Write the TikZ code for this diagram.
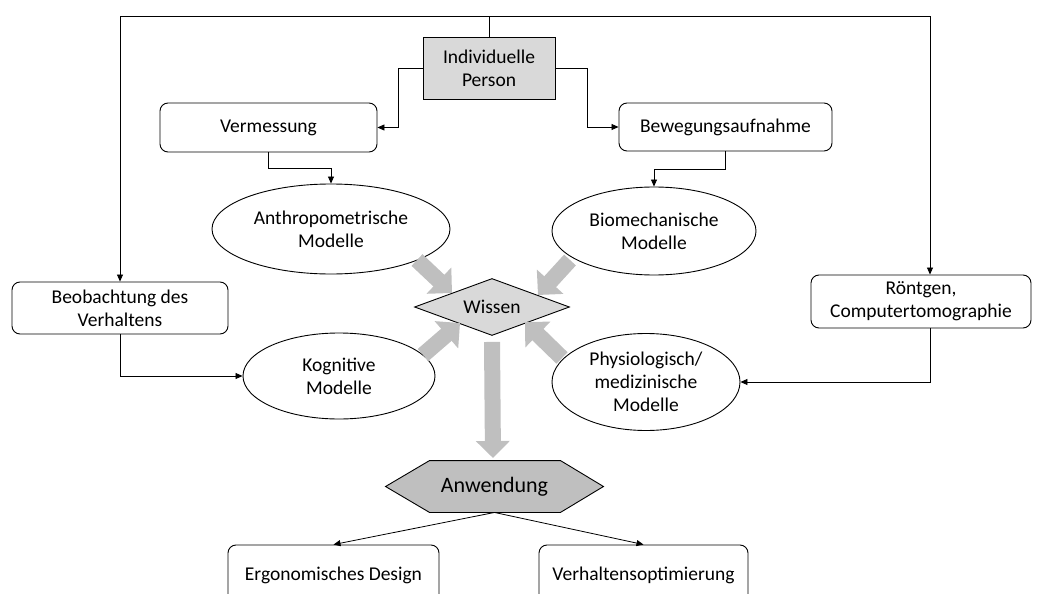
\documentclass[tikz,border=0pt]{standalone}
\usepackage{fontspec}
\setmainfont{Carlito}
\usetikzlibrary{arrows.meta,shapes.geometric,backgrounds}
\definecolor{lgray}{HTML}{D9D9D9}
\definecolor{mgray}{HTML}{BFBFBF}
\tikzset{
  base/.style={draw=black, line width=0.9pt, inner sep=0pt, align=center, font=\fontsize{19.5}{23}\selectfont},
  rbox/.style={base, rectangle, rounded corners=8pt},
  pbox/.style={base, rectangle, fill=lgray},
  ell/.style={base, ellipse},
  conn/.style={line width=0.8pt, -{Triangle[length=7pt,width=6pt]}},
  plain/.style={line width=0.8pt},
  bigarr/.style={draw=mgray, line width=16pt, -{Triangle[length=18pt,width=35pt]}},
}
\begin{document}
\begin{tikzpicture}[x=1pt,y=-1pt]
\clip (0,0) rectangle (1037,594);

% nodes
\node[pbox, minimum width=132, minimum height=62] (person) at (489,68) {Individuelle\\Person};
\node[rbox, minimum width=217, minimum height=49] (verm) at (268.5,127.5) {Vermessung};
\node[rbox, minimum width=213, minimum height=48] (beweg) at (725.5,127) {Bewegungsaufnahme};
\node[ell, minimum width=238, minimum height=90] (anthro) at (331,229) {Anthropometrische\\Modelle};
\node[ell, minimum width=204, minimum height=88] (bio) at (654,231) {Biomechanische\\Modelle};
\node[base, diamond, shape aspect=2.72, fill=lgray, minimum width=155, minimum height=57] (wissen) at (492,307) {Wissen};
\node[rbox, minimum width=216, minimum height=52] (beob) at (120,308) {Beobachtung des\\Verhaltens};
\node[rbox, minimum width=220, minimum height=53] (roent) at (921,301.5) {Röntgen,\\Computertomographie};
\node[ell, minimum width=192, minimum height=86] (kogn) at (339,376) {Kognitive\\Modelle};
\node[ell, minimum width=188, minimum height=97] (phys) at (646,382) {Physiologisch/\\medizinische\\Modelle};
\node[base, draw=none, minimum width=217, minimum height=51, font=\fontsize{22}{26}\selectfont] (anw) at (494.5,486.5) {Anwendung};
\begin{scope}[on background layer]
\draw[line width=0.9pt, fill=mgray] (anw.west) -- ([xshift=44pt]anw.north west) -- ([xshift=-43pt]anw.north east) -- (anw.east) -- ([xshift=-43pt]anw.south east) -- ([xshift=44pt]anw.south west) -- cycle;
\end{scope}
\node[rbox, minimum width=211, minimum height=60] (ergo) at (333.5,575) {Ergonomisches Design};
\node[rbox, minimum width=209, minimum height=60] (verh) at (643.5,575) {Verhaltensoptimierung};

% top distribution line
\coordinate (top) at (489,16);
\coordinate (rx) at (930,0);
\draw[plain] (person.north) -- (top);
\draw[conn] (top) -| (beob.north);
\draw[conn] (top) -| (rx |- roent.north);

% person to measurement boxes
\draw[conn] (person.west) -- ++(-24,0) |- (verm.east);
\draw[conn] (person.east) -- ++(32,0) |- (beweg.west);

% boxes to models
\draw[conn] (verm.south) -- ++(0,16) -| (anthro.north);
\draw[conn] (beweg.south) -- ++(0,18) -| (bio.north);
\draw[conn] (beob.south) |- (kogn.west);
\draw[conn] (rx |- roent.south) |- (phys.east);

% big gray arrows
\coordinate (a1s) at (417,260); \coordinate (a1e) at (452,293);
\coordinate (a2s) at (570,260); \coordinate (a2e) at (538,295);
\coordinate (a3s) at (423,355); \coordinate (a3e) at (460,323);
\coordinate (a4s) at (562,358); \coordinate (a4e) at (525,322);
\coordinate (a5e) at (493,458);
\draw[bigarr] (a1s) -- (a1e);
\draw[bigarr] (a2s) -- (a2e);
\draw[bigarr] (a3s) -- (a3e);
\draw[bigarr] (a4s) -- (a4e);
\draw[bigarr, line width=16pt, -{Triangle[length=17pt,width=33pt]}] ([yshift=-6pt]wissen.south) -- (a5e);

% application to results
\draw[conn] (anw.south) -- (ergo.north);
\draw[conn] (anw.south) -- (verh.north);
\end{tikzpicture}
\end{document}
